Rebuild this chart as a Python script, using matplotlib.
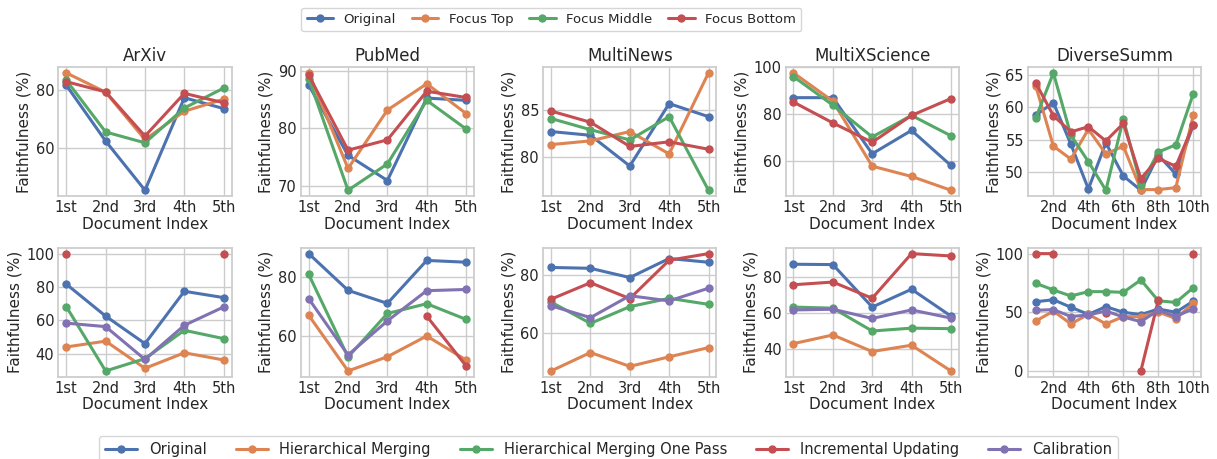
import numpy as np
import matplotlib
matplotlib.use("Agg")
import matplotlib.pyplot as plt
import seaborn as sns

nan = np.nan

datasets = ["ArXiv", "PubMed", "MultiNews", "MultiXScience", "DiverseSumm"]

top_labels = ["Original", "Focus Top", "Focus Middle", "Focus Bottom"]
bottom_labels = ["Original", "Hierarchical Merging", "Hierarchical Merging One Pass",
                 "Incremental Updating", "Calibration"]

# top row: position-focus experiments
top_arxiv = [
    [81.6, 62.5, 45.7, 77.3, 73.6],
    [85.8, 79.2, 63.0, 72.7, 76.8],
    [83.3, 65.6, 61.9, 73.8, 80.6],
    [82.8, 79.3, 64.2, 78.8, 75.6],
]
top_pubmed = [
    [87.6, 75.3, 70.9, 85.3, 84.9],
    [89.7, 73.0, 83.2, 87.8, 82.6],
    [88.7, 69.2, 73.8, 84.9, 79.9],
    [89.3, 76.2, 78.0, 86.5, 85.4],
]
top_multinews = [
    [82.7, 82.3, 79.0, 85.7, 84.3],
    [81.3, 81.7, 82.7, 80.3, 89.0],
    [84.1, 82.9, 81.8, 84.3, 76.4],
    [84.9, 83.7, 81.1, 81.6, 80.8],
]
top_multix = [
    [87.0, 87.0, 63.0, 73.0, 58.0],
    [97.6, 85.5, 57.7, 53.3, 47.4],
    [96.0, 83.8, 70.2, 79.4, 70.7],
    [85.1, 76.2, 67.9, 79.4, 86.6],
]
top_diverse = [
    [58.8, 60.7, 54.3, 47.4, 54.5, 49.4, 47.2, 52.6, 49.7, 57.3],
    [63.2, 54.0, 52.0, 56.6, 52.8, 54.0, 47.3, 47.3, 47.6, 58.8],
    [58.4, 65.3, 55.7, 51.6, 47.2, 58.2, 48.0, 53.1, 54.2, 62.1],
    [63.7, 58.7, 56.2, 57.0, 54.8, 57.5, 49.0, 52.1, 50.9, 57.3],
]

# bottom row: summarization strategies
bot_arxiv = [
    [81.7, 62.5, 46.0, 77.4, 73.6],
    [44.0, 47.5, 31.2, 40.5, 36.2],
    [68.2, 29.6, 37.0, 54.0, 49.0],
    [100.0, nan, nan, nan, 100.0],
    [58.3, 56.2, 36.5, 57.0, 68.0],
]
bot_pubmed = [
    [87.8, 75.4, 71.0, 85.5, 84.9],
    [67.0, 48.2, 53.0, 60.0, 51.9],
    [80.8, 52.9, 67.6, 70.9, 65.6],
    [nan, nan, nan, 66.7, 49.9],
    [72.6, 53.6, 65.1, 75.3, 75.7],
]
bot_multinews = [
    [82.6, 82.3, 79.1, 85.7, 84.4],
    [46.7, 53.1, 48.3, 51.6, 54.8],
    [70.6, 63.2, 69.0, 71.9, 69.8],
    [71.6, 77.3, 71.8, 85.1, 87.4],
    [69.3, 65.2, 72.8, 71.0, 75.4],
]
bot_multix = [
    [86.9, 86.7, 63.1, 73.0, 58.1],
    [42.8, 47.6, 38.4, 41.9, 27.6],
    [63.1, 62.5, 49.8, 51.4, 51.1],
    [75.5, 77.0, 68.0, 92.8, 91.5],
    [61.5, 61.9, 56.8, 61.5, 57.0],
]
bot_diverse = [
    [59.0, 60.7, 54.3, 48.2, 54.8, 50.0, 48.0, 52.8, 50.0, 59.5],
    [42.6, 51.0, 40.1, 48.3, 40.1, 46.3, 46.3, 50.3, 44.6, 57.7],
    [74.7, 69.0, 63.9, 67.6, 67.6, 67.0, 77.6, 59.8, 58.4, 71.0],
    [100.0, 100.0, nan, nan, 49.5, nan, 0.0, 60.2, nan, 100.0],
    [51.7, 52.3, 46.4, 47.7, 51.1, 46.0, 42.0, 51.8, 46.4, 53.1],
]

top_data = [top_arxiv, top_pubmed, top_multinews, top_multix, top_diverse]
bot_data = [bot_arxiv, bot_pubmed, bot_multinews, bot_multix, bot_diverse]

top_yticks = [[60, 80], [70, 80, 90], [80, 85], [60, 80, 100], [50, 55, 60, 65]]
bot_yticks = [[40, 60, 80, 100], [60, 80], [60, 80], [40, 60, 80], [0, 50, 100]]

ordinals = ["1st", "2nd", "3rd", "4th", "5th", "6th", "7th", "8th", "9th", "10th"]

sns.set_theme(style="whitegrid", palette="deep")
plt.rcParams['font.family'] = ['DejaVu Sans']
colors = sns.color_palette("deep")


def draw(ax, series, yticks):
    n = len(series[0])
    x = np.arange(1, n + 1)
    lines = []
    for i, ys in enumerate(series):
        ln, = ax.plot(x, ys, marker="o", color=colors[i], lw=2.2, ms=5)
        lines.append(ln)
    if n > 5:
        ax.set_xticks(x[1::2])
        ax.set_xticklabels(ordinals[1:n:2])
    else:
        ax.set_xticks(x)
        ax.set_xticklabels(ordinals[:n])
    ax.set_yticks(yticks)
    ax.tick_params(labelsize=10.5, length=0, pad=3)
    ax.set_xlabel("Document Index", fontsize=11, labelpad=1)
    ax.set_ylabel("Faithfulness (%)", fontsize=11, labelpad=3)
    return lines


fig, axes = plt.subplots(2, 5, figsize=(12.17, 4.59), dpi=100)
fig.subplots_adjust(left=0.048, right=0.987, top=0.854, bottom=0.179,
                    wspace=0.40, hspace=0.40)

for j, name in enumerate(datasets):
    top_lines = draw(axes[0, j], top_data[j], top_yticks[j])
    axes[0, j].set_title(name, fontsize=12, pad=4)
    bot_lines = draw(axes[1, j], bot_data[j], bot_yticks[j])

fig.legend(top_lines, top_labels, loc="upper center", ncol=4,
           bbox_to_anchor=(0.453, 1.0 - 1 / 459), fontsize=9.5, frameon=True,
           handlelength=2.0, handletextpad=0.8, columnspacing=1.2)
fig.legend(bot_lines, bottom_labels, loc="upper center", ncol=5,
           bbox_to_anchor=(0.5, 1 - 429 / 459), fontsize=10.5, frameon=True,
           handlelength=2.2, columnspacing=2.0)

fig.savefig("out.png", dpi=100)
plt.close(fig)
